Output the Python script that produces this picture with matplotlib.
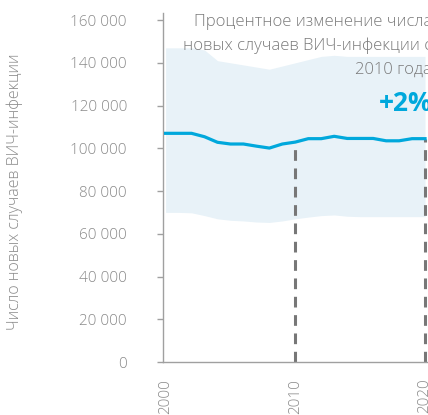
import numpy as np
from matplotlib import pyplot as plt
from matplotlib.ticker import FuncFormatter

years = list(range(2000, 2021))
new_infections = [107000, 107000, 107000, 105400, 102800, 102000, 102000, 101000, 100100, 102000,
                  102900, 104500, 104500, 105600, 104600, 104600, 104600, 103500, 103500, 104500, 104500]
upper = [147000, 147000, 147000, 146000, 141000, 140000, 139000, 138000, 137000, 138500,
         140000, 141500, 143000, 143500, 143000, 143000, 143000, 143000, 143000, 143000, 143000]
lower = [70000, 70000, 69800, 68500, 67000, 66300, 66000, 65500, 65300, 66000,
         67000, 67800, 68500, 68800, 68200, 68000, 68000, 68000, 68000, 68000, 68000]
marker_years = [2010, 2020]
yticks = [0, 20000, 40000, 60000, 80000, 100000, 120000, 140000, 160000]
xticks = [2000, 2010, 2020]
ylabel = 'Число новых случаев ВИЧ-инфекции'
note = 'Процентное изменение числа\nновых случаев ВИЧ-инфекции с\n2010 года'
change = '+2%'

blue = '#00a8dc'
gray = '#8a8a8a'

plt.rcParams['font.family'] = ['Open Sans', 'DejaVu Sans']

fig = plt.figure(figsize=(4.28, 4.15), dpi=100)
ax = fig.add_axes([163 / 428, 53 / 415, 275 / 428, 349 / 415])

ax.fill_between(years, lower, upper, color='#e8f2f8', linewidth=0, zorder=1)
ax.plot(years, new_infections, color=blue, linewidth=2.3, zorder=3)

for yr in marker_years:
    val = new_infections[years.index(yr)]
    ax.vlines(yr, 0, val, colors='#777777', linestyles=(0, (3.5, 2.5)), linewidth=2.2, zorder=2)

ax.set_xlim(1999.8, 2021)
ax.set_ylim(0, 163300)
ax.set_yticks(yticks)
ax.yaxis.set_major_formatter(FuncFormatter(lambda v, p: f'{int(v):,}'.replace(',', ' ')))
ax.set_xticks(xticks)
ax.set_xticklabels([str(x) for x in xticks], rotation=90)

for s in ['top', 'right']:
    ax.spines[s].set_visible(False)
for s in ['left', 'bottom']:
    ax.spines[s].set_color('#a0a0a0')
    ax.spines[s].set_linewidth(1.0)

ax.tick_params(axis='y', length=4, width=1, color='#a0a0a0', pad=22, labelsize=11, labelcolor=gray)
ax.tick_params(axis='x', length=0, pad=12, labelsize=11, labelcolor=gray)
for lbl in ax.get_xticklabels() + ax.get_yticklabels():
    lbl.set_fontweight('light')

fig.text(15 / 428, (415 - 192) / 415, ylabel, rotation=90, ha='center', va='center',
         fontsize=11.5, color=gray, fontweight='light')

ax.text(2020.55, 163000, note, ha='right', va='top', fontsize=12, color='#7a7a7a',
        linespacing=1.62, fontweight='light', zorder=4)
ax.text(2020.55, 121000, change, ha='right', va='center', fontsize=19, color=blue,
        fontweight='bold', zorder=4)

fig.savefig('out.png', dpi=100)
